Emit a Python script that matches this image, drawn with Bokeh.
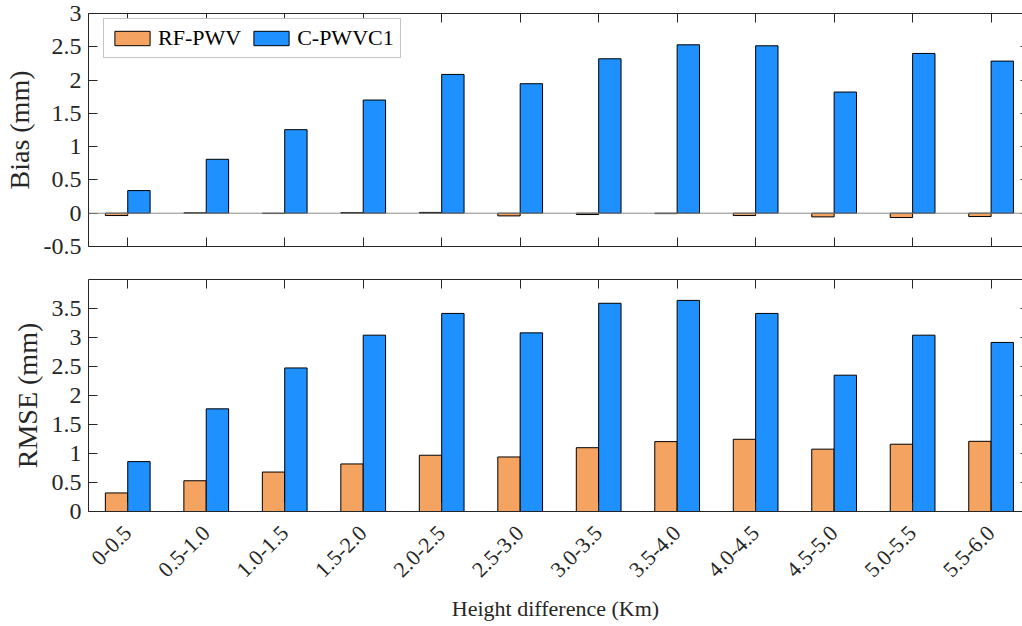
import math
from bokeh.plotting import figure
from bokeh.models import (Range1d, FixedTicker, LinearAxis, Span, Legend,
                          LegendItem, ColumnDataSource)
from bokeh.transform import dodge
from bokeh.layouts import column
from bokeh.embed import file_html
from bokeh.resources import INLINE

categories = ["0-0.5", "0.5-1.0", "1.0-1.5", "1.5-2.0", "2.0-2.5", "2.5-3.0",
              "3.0-3.5", "3.5-4.0", "4.0-4.5", "4.5-5.0", "5.0-5.5", "5.5-6.0"]
bias_rf = [-0.035, 0.005, -0.005, 0.008, 0.012, -0.04, -0.02, -0.006,
           -0.035, -0.055, -0.065, -0.05]
bias_c = [0.34, 0.81, 1.255, 1.70, 2.085, 1.945, 2.32, 2.53, 2.515, 1.82, 2.40, 2.285]
rmse_rf = [0.32, 0.53, 0.68, 0.82, 0.97, 0.94, 1.10, 1.205, 1.245, 1.075, 1.16, 1.21]
rmse_c = [0.86, 1.77, 2.475, 3.04, 3.415, 3.08, 3.59, 3.64, 3.415, 2.35, 3.04, 2.915]
bias_ticks = [-0.5, 0, 0.5, 1, 1.5, 2, 2.5, 3]
bias_tick_labels = ["-0.5", "0", "0.5", "1", "1.5", "2", "2.5", "3"]
rmse_ticks = [0, 0.5, 1, 1.5, 2, 2.5, 3, 3.5]
rmse_tick_labels = ["0", "0.5", "1", "1.5", "2", "2.5", "3", "3.5"]
series_names = ["RF-PWV", "C-PWVC1"]

FONT = "Liberation Serif"
AX = "#262626"
C_RF = "#F4A460"
C_C = "#1E90FF"
BW = 0.285
xpos = list(range(len(categories)))
x_labels = {i: c for i, c in zip(xpos, categories)}

src = ColumnDataSource(dict(x=xpos, cat=categories, bias_rf=bias_rf, bias_c=bias_c,
                            rmse_rf=rmse_rf, rmse_c=rmse_c))


def hide_labels(ax):
    ax.major_label_text_font_size = "0px"
    ax.major_label_text_color = None
    ax.major_label_standoff = 0


def style_x(ax, labels=True):
    ax.ticker = FixedTicker(ticks=xpos)
    ax.major_label_overrides = x_labels
    ax.major_tick_in = 9
    ax.major_tick_out = 0
    ax.minor_tick_in = 0
    ax.minor_tick_out = 0
    ax.axis_line_color = AX
    ax.major_tick_line_color = AX
    if not labels:
        hide_labels(ax)


def style_y(ax, ticks, tlabels, labels=True, tick_in=9):
    ax.ticker = FixedTicker(ticks=ticks)
    ax.major_label_overrides = {t: l for t, l in zip(ticks, tlabels)}
    ax.major_tick_in = tick_in
    ax.major_tick_out = 0
    ax.minor_tick_in = 0
    ax.minor_tick_out = 0
    ax.axis_line_color = AX
    ax.major_tick_line_color = AX
    ax.major_label_text_font = FONT
    ax.major_label_text_font_size = "24px"
    ax.major_label_text_color = AX
    ax.major_label_standoff = 7
    if not labels:
        hide_labels(ax)
        ax.axis_line_color = None


def make_fig(height, yr, top, bottom):
    p = figure(width=1022, height=height, x_range=Range1d(-0.5, 11.4), y_range=yr,
               output_backend="svg", toolbar_location=None,
               min_border_left=88, min_border_right=0, min_border_top=top,
               min_border_bottom=bottom, x_axis_location=None, y_axis_location=None)
    p.xgrid.visible = False
    p.ygrid.visible = False
    p.outline_line_color = None
    p.background_fill_color = "white"
    p.border_fill_color = "white"
    return p


def style_ylabel(ax):
    ax.axis_label_text_font = FONT
    ax.axis_label_text_font_size = "28px"
    ax.axis_label_text_font_style = "normal"
    ax.axis_label_text_color = AX
    ax.axis_label_standoff = 6


# ---------- top panel: Bias ----------
p1 = make_fig(263, Range1d(-0.5, 3), 13, 17)
r1 = p1.vbar(x=dodge("x", -BW / 2), top="bias_rf", width=BW, source=src,
             fill_color=C_RF, line_color="black", line_width=1)
r2 = p1.vbar(x=dodge("x", BW / 2), top="bias_c", width=BW, source=src,
             fill_color=C_C, line_color="black", line_width=1)
p1.add_layout(Span(location=0, dimension="width", line_color="#8c8c8c", line_width=1))

ly = LinearAxis(axis_label="Bias (mm)")
style_y(ly, bias_ticks, bias_tick_labels)
style_ylabel(ly)
p1.add_layout(ly, "left")
ry = LinearAxis()
style_y(ry, bias_ticks, bias_tick_labels, labels=False, tick_in=2)
p1.add_layout(ry, "right")
bx = LinearAxis()
style_x(bx, labels=False)
p1.add_layout(bx, "below")
tx = LinearAxis()
style_x(tx, labels=False)
p1.add_layout(tx, "above")

legend = Legend(items=[LegendItem(label=series_names[0], renderers=[r1]),
                       LegendItem(label=series_names[1], renderers=[r2])],
                orientation="horizontal", location=(15, 188), margin=0,
                label_text_font=FONT, label_text_font_size="22px",
                label_text_color="black", glyph_width=44, glyph_height=18,
                label_height=18, label_standoff=4, spacing=8, padding=6,
                border_line_color="#8c8c8c", border_line_width=1,
                background_fill_color="white", background_fill_alpha=1)
p1.add_layout(legend)

# ---------- bottom panel: RMSE ----------
p2 = make_fig(363, Range1d(0, 4.0), 16, 115)
p2.vbar(x=dodge("x", -BW / 2), top="rmse_rf", width=BW, source=src,
        fill_color=C_RF, line_color="black", line_width=1)
p2.vbar(x=dodge("x", BW / 2), top="rmse_c", width=BW, source=src,
        fill_color=C_C, line_color="black", line_width=1)

ly2 = LinearAxis(axis_label="RMSE (mm)")
style_y(ly2, rmse_ticks, rmse_tick_labels)
style_ylabel(ly2)
p2.add_layout(ly2, "left")
ry2 = LinearAxis()
style_y(ry2, rmse_ticks, rmse_tick_labels, labels=False, tick_in=2)
p2.add_layout(ry2, "right")
tx2 = LinearAxis()
style_x(tx2, labels=False)
p2.add_layout(tx2, "above")
bx2 = LinearAxis(axis_label="Height difference (Km)")
style_x(bx2)
bx2.major_label_orientation = math.pi / 4
bx2.major_label_text_font = FONT
bx2.major_label_text_font_size = "22px"
bx2.major_label_text_color = AX
bx2.major_label_standoff = 18
bx2.axis_label_text_font = FONT
bx2.axis_label_text_font_size = "22px"
bx2.axis_label_text_font_style = "normal"
bx2.axis_label_text_color = AX
bx2.axis_label_standoff = 10
p2.add_layout(bx2, "below")

layout = column(p1, p2, spacing=0)
open("out.html", "w").write(file_html(layout, INLINE))
